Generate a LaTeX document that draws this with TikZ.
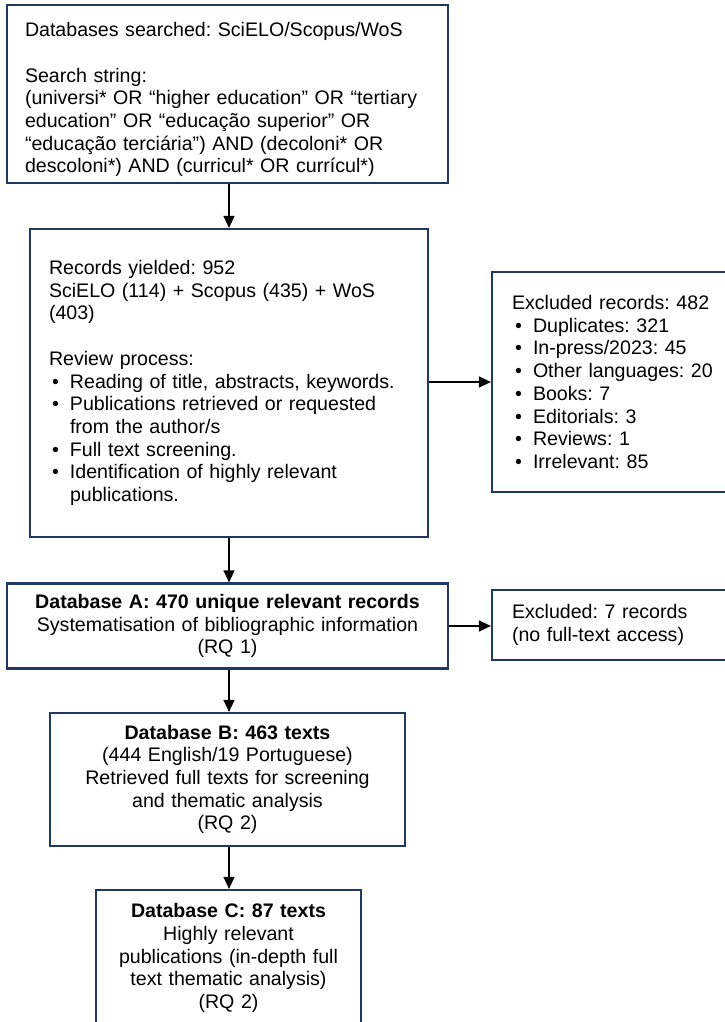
\documentclass[tikz,border=0pt]{standalone}
\usepackage{fontspec}
\setmainfont{Liberation Sans}
\usetikzlibrary{arrows.meta}
\definecolor{navy}{RGB}{31,56,100}
\frenchspacing
\newcommand{\bitem}[1]{\par\noindent\hangindent=21pt\hangafter=1\makebox[21pt][l]{\hspace{3pt}•}#1}
\newcommand{\blankline}{\par\noindent\mbox{}}
\tikzset{
  box/.style={draw=navy, line width=2.2pt, rectangle, inner ysep=0pt,
    font=\fontsize{19.6}{22.7}\selectfont\frenchspacing},
  arr/.style={line width=1.4pt, -{Triangle[length=12pt,width=11pt]}},
  x=1pt, y=-1pt
}
\begin{document}
\begin{tikzpicture}
\useasboundingbox (0,0) rectangle (725,1022);
\clip (0,0) rectangle (725,1022);
\fill[white] (0,0) rectangle (725,1022);

\node[box, align=left, text width=405pt, inner xsep=18pt, minimum height=178pt] (search) at (227.5,94)
{\vspace*{3pt}\par\noindent Databases searched: SciELO/Scopus/WoS\blankline
\par\noindent Search string:\newline
(universi* OR “higher education” OR “tertiary\newline
education” OR “educação superior” OR\newline
“educação terciária”) AND (decoloni* OR\newline
descoloni*) AND (curricul* OR currícul*)\par};

\node[box, align=left, text width=360pt, inner xsep=19pt, minimum height=308pt] (review) at (229,383)
{Records yielded: 952\newline
SciELO (114) + Scopus (435) + WoS\newline
(403)\blankline
\par\noindent Review process:
\bitem{Reading of title, abstracts, keywords.}
\bitem{Publications retrieved or requested\newline from the author/s}
\bitem{Full text screening.}
\bitem{Identification of highly relevant\newline publications.}\par};

\node[box, align=left, text width=211pt, inner xsep=20pt, minimum height=220pt] (excl) at (617.5,382)
{Excluded records: 482
\bitem{Duplicates: 321}
\bitem{In-press/2023: 45}
\bitem{Other languages: 20}
\bitem{Books: 7}
\bitem{Editorials: 3}
\bitem{Reviews: 1}
\bitem{Irrelevant: 85}\par};

\node[box, align=center, text width=405pt, inner xsep=18pt, minimum height=85pt] (dba) at (227.5,626)
{\textbf{Database A: 470 unique relevant records}\\
Systematisation of bibliographic information\\
(RQ 1)};

\node[box, align=left, text width=211pt, inner xsep=20pt, minimum height=70pt] (excl7) at (617.5,625)
{Excluded: 7 records\\
(no full-text access)};

\node[box, align=center, text width=325pt, inner xsep=15pt, minimum height=133pt] (dbb) at (227.5,779.5)
{\textbf{Database B: 463 texts}\\
(444 English/19 Portuguese)\\
Retrieved full texts for screening\\
and thematic analysis\\
(RQ 2)};

\node[box, align=center, text width=245pt, inner xsep=10pt, minimum height=136pt] (dbc) at (228.5,958)
{\textbf{Database C: 87 texts}\\
Highly relevant\\
publications (in-depth full\\
text thematic analysis)\\
(RQ 2)};

\draw[arr] (search.south -| 229,0) -- (review.north -| 229,0);
\draw[arr] (review.south -| 229,0) -- (dba.north -| 229,0);
\draw[arr] (dba.south -| 229,0) -- (dbb.north -| 229,0);
\draw[arr] (dbb.south -| 229,0) -- (dbc.north -| 229,0);
\draw[arr] (review.east |- 0,382) -- (excl.west |- 0,382);
\draw[arr] (dba.east |- 0,626) -- (excl7.west |- 0,626);
\end{tikzpicture}
\end{document}
